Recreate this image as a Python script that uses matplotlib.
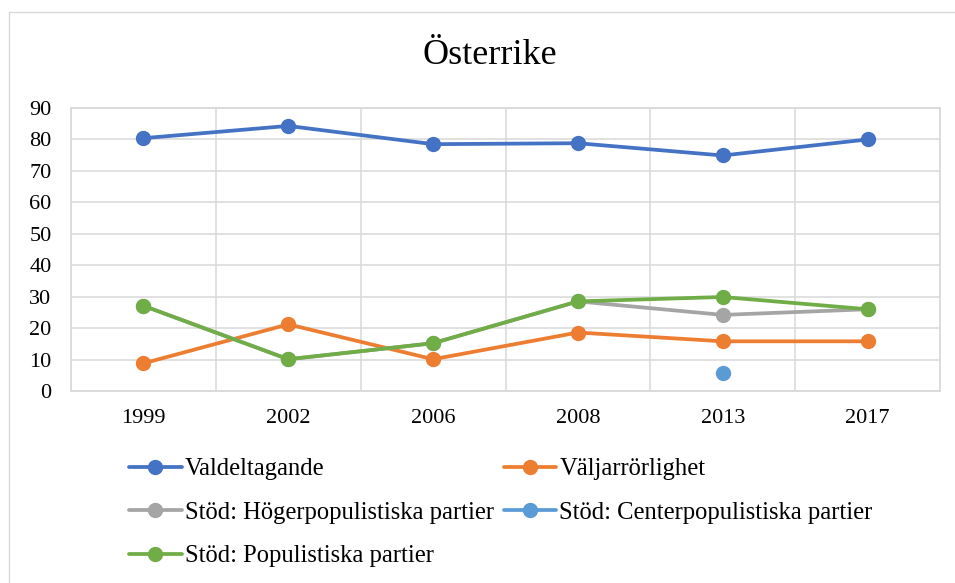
import matplotlib
matplotlib.use("Agg")
import matplotlib.pyplot as plt
from matplotlib.patches import Rectangle
import numpy as np

plt.rcParams['font.family'] = ['Liberation Serif', 'DejaVu Serif']

years = ["1999", "2002", "2006", "2008", "2013", "2017"]
valdeltagande = [80.4, 84.3, 78.5, 78.8, 74.9, 80.0]
valjarrorlighet = [8.8, 21.2, 10.1, 18.6, 15.8, 15.8]
hoger = [27.1, 10.1, 15.2, 28.5, 24.2, 26.0]
center = [np.nan, np.nan, np.nan, np.nan, 5.7, np.nan]
populistiska = [27.1, 10.1, 15.2, 28.5, 29.9, 26.0]

labels = ["Valdeltagande", "Väljarrörlighet", "Stöd: Högerpopulistiska partier",
          "Stöd: Centerpopulistiska partier", "Stöd: Populistiska partier"]
colors = ["#4472C4", "#ED7D31", "#A5A5A5", "#5B9BD5", "#70AD47"]
series = [valdeltagande, valjarrorlighet, hoger, center, populistiska]

W, H = 955, 583
fig = plt.figure(figsize=(W / 100, H / 100), dpi=100)
ax = fig.add_axes([71 / W, 1 - 391 / H, (940 - 71) / W, (391 - 108) / H])

x = np.arange(len(years))
handles = []
for s, lab, c in zip(series, labels, colors):
    h, = ax.plot(x, s, color=c, lw=2.7, marker='o', markersize=10,
                 label=lab, solid_capstyle='round', zorder=3)
    handles.append(h)

ax.set_xlim(-0.5, len(years) - 0.5)
ax.set_ylim(0, 90)
ax.set_yticks(range(0, 91, 10))
ax.set_xticks(x)
ax.set_xticklabels(years)
ax.set_xticks(np.arange(0.5, len(years) - 0.5, 1), minor=True)
ax.grid(axis='y', which='major', color='#D9D9D9', lw=1.1, zorder=0)
ax.grid(axis='x', which='minor', color='#D9D9D9', lw=1.1, zorder=0)
ax.tick_params(axis='both', which='both', length=0, labelsize=16)
ax.tick_params(axis='y', pad=14)
ax.tick_params(axis='x', pad=13)
for sp in ax.spines.values():
    sp.set_color('#D9D9D9')
    sp.set_linewidth(1.3)

fig.text(489.5 / W, 1 - 55 / H, "Österrike", ha='center', va='center', fontsize=26)

order = [0, 2, 4, 1, 3]
fig.legend([handles[i] for i in order], [labels[i] for i in order],
           loc='upper left', bbox_to_anchor=(129 / W, 1 - 458 / H),
           ncol=2, frameon=False, fontsize=17.7, borderpad=0, borderaxespad=0,
           handlelength=2.15, handletextpad=0.12, columnspacing=0.4,
           labelspacing=0.87)

fig.add_artist(Rectangle((9 / W, -0.1), 1.2, 1 - 12 / H + 0.1,
                         transform=fig.transFigure, fill=False,
                         edgecolor='#D9D9D9', lw=1))

fig.savefig("out.png", dpi=100)
